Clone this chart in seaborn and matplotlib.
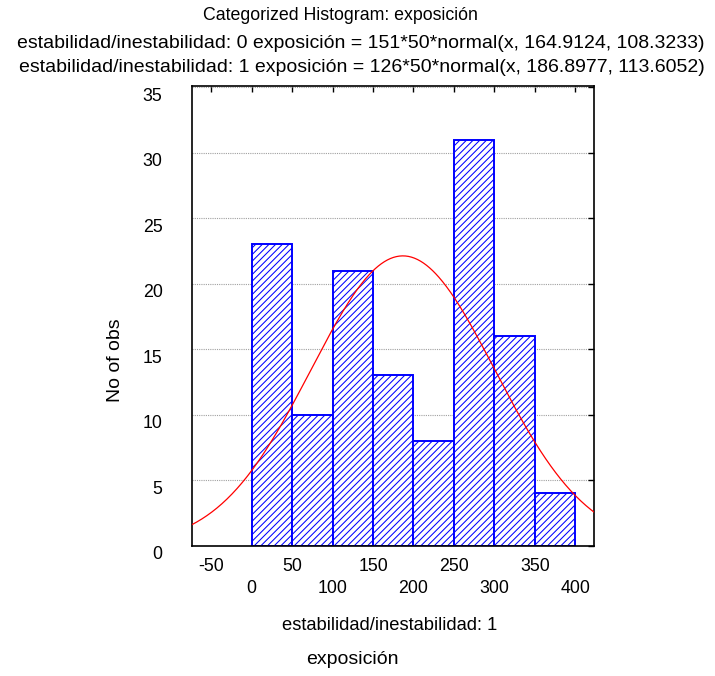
import numpy as np
import matplotlib
matplotlib.use("Agg")
import matplotlib.pyplot as plt
from matplotlib.transforms import ScaledTranslation
import seaborn as sns

# ---- data ----
bin_edges = [0, 50, 100, 150, 200, 250, 300, 350, 400]
counts = [23, 10, 21, 13, 8, 31, 16, 4]
n_obs = 126
bin_width = 50
fit_mean = 186.8977
fit_sd = 113.6052
x_major_ticks = [-50, 50, 150, 250, 350]
x_minor_ticks = [0, 100, 200, 300, 400]
y_ticks = [0, 5, 10, 15, 20, 25, 30, 35]
title_lines = [
    "Categorized Histogram: exposición",
    "estabilidad/inestabilidad: 0 exposición = 151*50*normal(x, 164.9124, 108.3233)",
    "estabilidad/inestabilidad: 1 exposición = 126*50*normal(x, 186.8977, 113.6052)",
]

sns.set_style("white")
plt.rcParams['font.family'] = ['Liberation Sans', 'DejaVu Sans']
plt.rcParams['hatch.linewidth'] = 0.75
plt.rcParams['text.color'] = 'black'

W, H = 715, 676
fig = plt.figure(figsize=(W / 100, H / 100), dpi=100)
ax = fig.add_axes([191.7 / W, 1 - 545.5 / H, (594 - 191.7) / W, (545.5 - 86) / H])

centers = [(a + b) / 2 for a, b in zip(bin_edges[:-1], bin_edges[1:])]
sns.histplot(x=centers, weights=counts, bins=bin_edges, ax=ax, color="blue", zorder=2)
for p in ax.patches:
    p.set_facecolor("white")
    p.set_edgecolor("#0000ff")
    p.set_hatch("/////")
    p.set_linewidth(1.4)
    p.set_alpha(1)

xs = np.linspace(-74, 423, 400)
ys = n_obs * bin_width * np.exp(-0.5 * ((xs - fit_mean) / fit_sd) ** 2) / (fit_sd * np.sqrt(2 * np.pi))
sns.lineplot(x=xs, y=ys, ax=ax, color="red", lw=0.9, zorder=3)

ax.set_xlim(-74, 423)
ax.set_ylim(0, 35.1)
ax.set_xticks(x_major_ticks)
ax.set_xticks(x_minor_ticks, minor=True)
ax.set_xticklabels([str(v) for v in x_major_ticks])
ax.set_xticklabels([str(v) for v in x_minor_ticks], minor=True)
ax.set_yticks(y_ticks)
ax.set_yticklabels([str(v) for v in y_ticks])

fs = 12.8
ax.tick_params(axis="x", which="major", direction="in", length=4, width=1, top=True,
               labelsize=fs, pad=9, colors="black")
ax.tick_params(axis="x", which="minor", direction="in", length=4, width=1, top=True,
               labelsize=fs, pad=25, colors="black")
ax.tick_params(axis="y", direction="in", length=4, width=1, left=False, right=True,
               labelsize=fs, pad=21, colors="black")
for lab in ax.get_yticklabels():
    lab.set_transform(lab.get_transform() + ScaledTranslation(0, -7 / 100, fig.dpi_scale_trans))

ax.yaxis.grid(True, linestyle=(0, (1, 1)), color="#a0a0a0", linewidth=0.8, zorder=0)
ax.xaxis.grid(False)
ax.set_axisbelow(True)
for s in ax.spines.values():
    s.set_color("black")
    s.set_linewidth(1.2)
    s.set_visible(True)

ax.set_xlabel("")
ax.set_ylabel("")

fig.text(115 / W, 1 - 360 / H, "No of obs", rotation=90, ha="center", va="center", fontsize=14.0)
fig.text(390 / W, 1 - 625 / H, "estabilidad/inestabilidad: 1", ha="center", va="center", fontsize=13.2)
fig.text(352 / W, 1 - 660 / H, "exposición", ha="center", va="center", fontsize=14.0)

fig.text(340 / W, 1 - 15 / H, title_lines[0], ha="center", va="center", fontsize=fs)
fig.text(361 / W, 1 - 43 / H, title_lines[1], ha="center", va="center", fontsize=14.0)
fig.text(362 / W, 1 - 67 / H, title_lines[2], ha="center", va="center", fontsize=14.0)

fig.savefig("out.png", dpi=100)
